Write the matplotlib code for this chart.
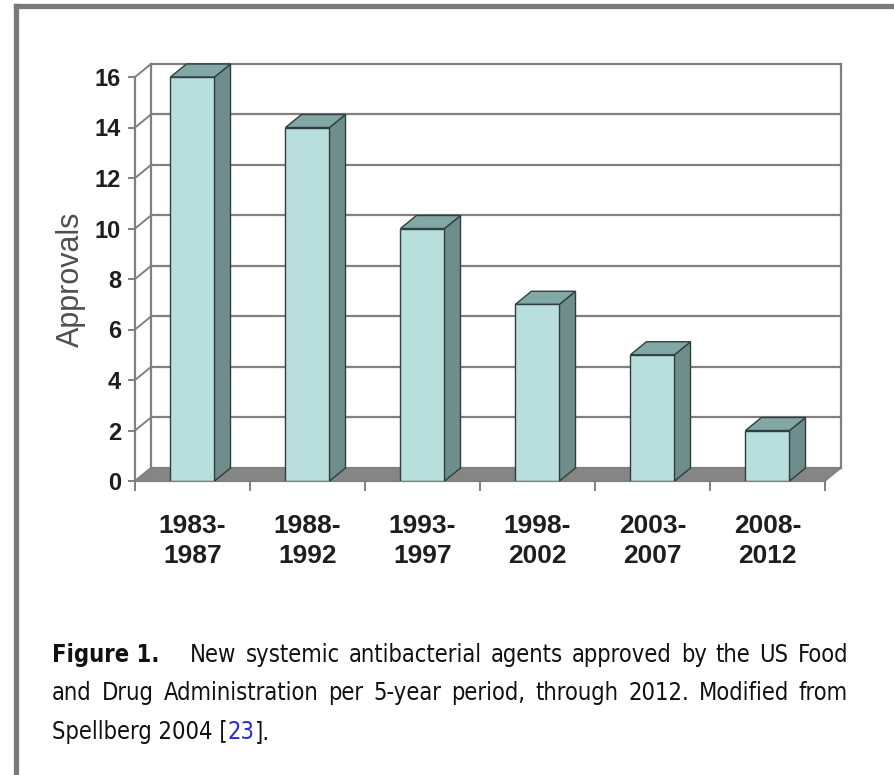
import matplotlib
matplotlib.use("Agg")
import matplotlib.pyplot as plt
from matplotlib.patches import Polygon
from matplotlib.lines import Line2D
from matplotlib import font_manager

# ---- data -------------------------------------------------------------
periods = ["1983-\n1987", "1988-\n1992", "1993-\n1997",
           "1998-\n2002", "2003-\n2007", "2008-\n2012"]
approvals = [16, 14, 10, 7, 5, 2]
y_ticks = [0, 2, 4, 6, 8, 10, 12, 14, 16]
y_label = "Approvals"

caption_lines = [
    ["Figure 1.", "New", "systemic", "antibacterial", "agents", "approved",
     "by", "the", "US", "Food"],
    ["and", "Drug", "Administration", "per", "5-year", "period,", "through",
     "2012.", "Modified", "from"],
]
caption_last = ["Spellberg 2004 [", "23", "]."]

# ---- style ------------------------------------------------------------
W, H = 894, 775
FRONT = "#b9dfdc"
SIDE = "#6e8d8b"
TOP = "#82a8a6"
EDGE = "#2f3f3f"
GRID = "#808080"
FLOOR = "#858585"

# depth of the pseudo-3D box in data units
DX = 0.139
DY = 0.515
BAR_W = 0.383

# pick a narrow face for the caption if one is installed
body_family = "Liberation Sans"
body_stretch = "normal"
for f in font_manager.fontManager.ttflist:
    if f.name == "Liberation Sans Narrow":
        body_family, body_stretch = "Liberation Sans Narrow", "normal"
        break
else:
    for f in font_manager.fontManager.ttflist:
        if f.name == "DejaVu Sans" and "Condensed" in f.fname:
            body_family, body_stretch = "DejaVu Sans", "condensed"
            break

plt.rcParams["font.family"] = ["Liberation Sans", "DejaVu Sans"]

fig = plt.figure(figsize=(W / 100, H / 100), dpi=100)
fig.patch.set_facecolor("white")

# axes: front plane x 0..6 -> px 135..825, y 0..16 -> px 481..77
ax = fig.add_axes([135 / W, 1 - 481 / H, 690 / W, 404 / H])
ax.set_xlim(0, len(approvals))
ax.set_ylim(0, 16)
ax.set_facecolor("none")

n = len(approvals)
top_v = y_ticks[-1]

# back wall gridlines and left-wall diagonals
for v in y_ticks:
    ax.add_line(Line2D([DX, n + DX], [v + DY, v + DY], color=GRID, lw=1.6,
                       clip_on=False, zorder=1))
    ax.add_line(Line2D([0, DX], [v, v + DY], color=GRID, lw=1.4,
                       clip_on=False, zorder=1))
# back wall verticals
ax.add_line(Line2D([DX, DX], [DY, top_v + DY], color=GRID, lw=1.6,
                   clip_on=False, zorder=1))
ax.add_line(Line2D([n + DX, n + DX], [DY, top_v + DY], color=GRID, lw=1.6,
                   clip_on=False, zorder=1))

# floor
ax.add_patch(Polygon([[0, 0], [n, 0], [n + DX, DY], [DX, DY]], closed=True,
                     facecolor=FLOOR, edgecolor=GRID, lw=1.0, clip_on=False,
                     zorder=2))

# bars: front faces via bar(), plus side and top faces
xs = [i + 0.5 for i in range(n)]
ax.bar(xs, approvals, width=BAR_W, color=FRONT, edgecolor=EDGE, lw=1.0,
       zorder=4)
for x, v in zip(xs, approvals):
    x1 = x + BAR_W / 2
    x0 = x - BAR_W / 2
    ax.add_patch(Polygon([[x1, 0], [x1 + DX, DY], [x1 + DX, v + DY], [x1, v]],
                         closed=True, facecolor=SIDE, edgecolor=EDGE, lw=1.0,
                         clip_on=False, zorder=4))
    ax.add_patch(Polygon([[x0, v], [x1, v], [x1 + DX, v + DY], [x0 + DX, v + DY]],
                         closed=True, facecolor=TOP, edgecolor=EDGE, lw=1.0,
                         clip_on=False, zorder=4))

# spines
for s in ("top", "right"):
    ax.spines[s].set_visible(False)
for s in ("left", "bottom"):
    ax.spines[s].set_color(GRID)
    ax.spines[s].set_linewidth(1.6)
    ax.spines[s].set_zorder(3)

# y axis
ax.set_yticks(y_ticks)
ax.set_yticklabels([str(v) for v in y_ticks], fontsize=17, fontweight="bold",
                   color="#1e1e1e")
ax.tick_params(axis="y", direction="out", length=5, width=1.4, color=GRID,
               pad=5)
ax.set_ylabel(y_label, fontsize=22, color="#4f4f4f", labelpad=6)

# x axis: boundary ticks, labels in the middle of each slot
ax.set_xticks(range(n + 1))
ax.set_xticklabels([])
ax.tick_params(axis="x", which="major", direction="out", length=7, width=1.4,
               color=GRID)
ax.set_xticks(xs, minor=True)
ax.set_xticklabels(periods, minor=True, fontsize=19, fontweight="bold",
                   color="#1e1e1e", linespacing=1.3)
ax.tick_params(axis="x", which="minor", length=0, pad=24)

# ---- frame ------------------------------------------------------------
fig.add_artist(Line2D([16 / W, 16 / W], [0, 1 - 6 / H], color="#7a7a7a",
                      lw=3.8, transform=fig.transFigure))
fig.add_artist(Line2D([16 / W, 1], [1 - 6 / H, 1 - 6 / H], color="#7a7a7a",
                      lw=3.8, transform=fig.transFigure))

# ---- caption ----------------------------------------------------------
renderer = fig.canvas.get_renderer()
CAP_SIZE = 17
left_px, right_px = 52, 848
baselines = [662, 700, 739]
cap_kw = dict(fontsize=CAP_SIZE, family=[body_family, "DejaVu Sans"],
              fontstretch=body_stretch, va="baseline", ha="left")


def fx(px):
    return px / W


def fy(py):
    return 1 - py / H


def measure(t):
    return t.get_window_extent(renderer).width


for li, words in enumerate(caption_lines):
    texts = []
    for wi, w in enumerate(words):
        bold = (li == 0 and wi == 0)
        t = fig.text(0, fy(baselines[li]), w,
                     fontweight="bold" if bold else "normal",
                     color="#111111", **cap_kw)
        texts.append(t)
    widths = [measure(t) for t in texts]
    extra_first = 22 if li == 0 else 0
    gaps = len(words) - 1
    gap = (right_px - left_px - sum(widths) - extra_first) / gaps
    x = left_px
    for wi, (t, w) in enumerate(zip(texts, widths)):
        t.set_x(fx(x))
        x += w + gap + (extra_first if wi == 0 else 0)

x = left_px
for piece, col in zip(caption_last, ["#111111", "#2a2ad0", "#111111"]):
    t = fig.text(fx(x), fy(baselines[2]), piece, color=col, **cap_kw)
    x += measure(t)

fig.savefig("out.png", dpi=100, facecolor="white")
